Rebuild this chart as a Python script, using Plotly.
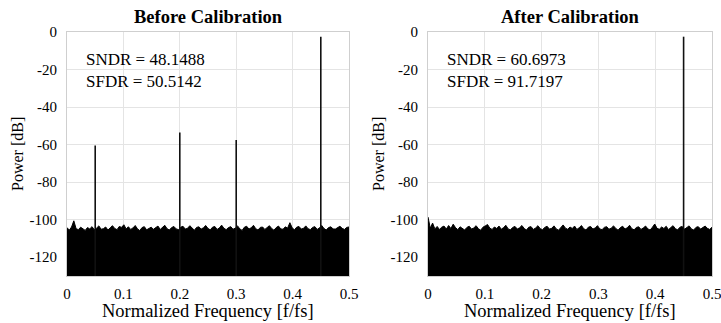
import numpy as np
import plotly.graph_objects as go

# ---------------- data ----------------
titles = ["Before Calibration", "After Calibration"]
sndr = [48.1488, 60.6973]
sfdr = [50.5142, 91.7197]

# tones: normalized frequency and peak power (dB)
before_tone_f = [0.05, 0.2, 0.3, 0.45]
before_tone_p = [-60.5, -53.5, -57.5, -2.5]
after_tone_f = [0.45]
after_tone_p = [-2.5]

# noise floor upper envelope (dB), read left to right across 0..0.5
before_floor = [
    -104.2, -105.6, -103.9, -100.6, -104.8, -105.3, -104.0, -104.9, -105.7, -104.2,
    -104.9, -103.7, -105.4, -104.5, -103.3, -105.1, -104.8, -103.9, -105.5, -104.3,
    -103.2, -104.7, -105.3, -103.6, -104.1, -102.7, -104.9, -103.8, -105.2, -104.4,
    -103.1, -104.9, -105.8, -104.2, -103.7, -105.4, -104.6, -104.0, -105.1, -104.3,
    -103.4, -105.2, -104.1, -103.0, -104.8, -105.5, -104.2, -103.6, -104.9, -105.3,
    -104.0, -103.5, -105.0, -104.6, -103.2, -104.4, -105.6, -104.1, -103.8, -105.0,
    -104.3, -103.1, -104.7, -105.4, -104.0, -103.6, -105.2, -104.4, -102.9, -104.6,
    -105.3, -104.2, -103.7, -105.1, -104.5, -103.3, -104.9, -105.7, -104.0, -103.5,
    -105.0, -104.3, -103.0, -104.8, -105.5, -104.1, -103.9, -105.2, -104.4, -103.2,
    -104.7, -105.6, -104.2, -103.4, -104.9, -105.1, -103.8, -104.5, -101.6, -104.3,
    -105.4, -104.0, -103.6, -105.0, -104.6, -103.3, -104.8, -105.3, -104.1, -103.7,
    -105.2, -104.4, -103.1, -104.7, -105.5, -104.2, -103.8, -104.9, -105.0, -104.3,
    -103.5, -104.6, -105.2, -104.1, -103.9,
]
after_floor = [
    -98.6, -104.5, -101.8, -104.9, -103.6, -105.2, -104.0, -103.4, -105.0, -103.1,
    -104.7, -102.4, -104.2, -105.3, -103.8, -104.6, -105.5, -104.1, -103.5, -105.0,
    -104.4, -103.2, -104.8, -105.6, -104.0, -103.3, -102.6, -104.5, -105.2, -103.9,
    -104.7, -103.4, -105.1, -104.2, -103.0, -104.9, -105.4, -104.1, -103.6, -105.0,
    -104.3, -103.1, -104.7, -105.5, -104.0, -103.7, -105.2, -104.4, -103.2, -104.8,
    -105.3, -104.1, -103.5, -105.0, -104.6, -103.3, -104.9, -105.6, -104.2, -102.8,
    -104.5, -105.1, -103.9, -104.7, -103.4, -105.2, -104.3, -103.1, -104.8, -105.5,
    -104.0, -103.6, -105.0, -104.4, -103.2, -104.9, -105.3, -104.1, -103.7, -105.1,
    -104.5, -103.3, -104.7, -105.6, -104.2, -103.5, -105.0, -104.3, -103.0, -104.8,
    -105.4, -104.1, -103.8, -105.2, -104.4, -103.4, -104.9, -105.5, -104.0, -102.3,
    -104.6, -105.1, -103.9, -104.7, -103.5, -105.3, -104.2, -103.2, -104.8, -105.4,
    -104.0, -103.6, -105.1, -104.4, -103.3, -104.9, -105.5, -104.1, -103.7, -105.0,
    -104.3, -103.4, -104.6, -105.2, -104.0,
]

x_ticks = [0, 0.1, 0.2, 0.3, 0.4, 0.5]
x_tick_text = ["0", "0.1", "0.2", "0.3", "0.4", "0.5"]
y_ticks = [0, -20, -40, -60, -80, -100, -120]
y_tick_text = ["0", "-20", "-40", "-60", "-80", "-100", "-120"]
y_min, y_max = -130, 0

# ---------------- figure ----------------
W, H = 721, 323
FONT = "Liberation Serif"
fig = go.Figure()

panels = [
    dict(floor=before_floor, tf=before_tone_f, tp=before_tone_p, xa="x", ya="y",
         dom=[67 / W, 349 / W]),
    dict(floor=after_floor, tf=after_tone_f, tp=after_tone_p, xa="x2", ya="y2",
         dom=[428 / W, 712 / W]),
]
ydom = [(H - 276) / H, (H - 32) / H]

for i, p in enumerate(panels):
    fx = np.linspace(0, 0.5, len(p["floor"]))
    # baseline for the fill
    fig.add_trace(go.Scatter(x=fx, y=[y_min] * len(fx), mode="lines",
                             line=dict(width=0, color="black"),
                             xaxis=p["xa"], yaxis=p["ya"], showlegend=False,
                             hoverinfo="skip"))
    fig.add_trace(go.Scatter(x=fx, y=p["floor"], mode="lines", fill="tonexty",
                             fillcolor="black", line=dict(width=1, color="black"),
                             xaxis=p["xa"], yaxis=p["ya"], showlegend=False))
    # tone spikes
    sx, sy = [], []
    for f, pk in zip(p["tf"], p["tp"]):
        sx += [f, f, None]
        sy += [y_min, pk, None]
    fig.add_trace(go.Scatter(x=sx, y=sy, mode="lines",
                             line=dict(width=1.6, color="#111111"),
                             xaxis=p["xa"], yaxis=p["ya"], showlegend=False))

    axis_common = dict(showgrid=True, gridcolor="#e4e4e4", gridwidth=1,
                       showline=True, linecolor="#cfcfcf", linewidth=1, mirror=True,
                       zeroline=False, ticks="", automargin=False,
                       ticklabeloverflow="allow",
                       tickfont=dict(family=FONT, size=15, color="black"))
    xkey = "xaxis" if i == 0 else "xaxis2"
    ykey = "yaxis" if i == 0 else "yaxis2"
    fig.update_layout(**{
        xkey: dict(domain=p["dom"], range=[0, 0.5], tickvals=x_ticks,
                   ticktext=x_tick_text, anchor=p["ya"], ticklabelstandoff=4,
                   **axis_common),
        ykey: dict(domain=ydom, range=[y_min, y_max], tickvals=y_ticks,
                   ticktext=y_tick_text, anchor=p["xa"], ticklabelstandoff=6,
                   **axis_common),
    })

    cx = (p["dom"][0] + p["dom"][1]) / 2
    # panel title
    fig.add_annotation(text="<b>" + titles[i] + "</b>", xref="paper", yref="paper",
                       x=cx, y=(H - 17) / H, xanchor="center", yanchor="middle",
                       showarrow=False,
                       font=dict(family=FONT, size=18.5, color="black"))
    # x title
    fig.add_annotation(text="Normalized Frequency [f/fs]", xref="paper", yref="paper",
                       x=cx, y=(H - 311) / H, xanchor="center", yanchor="middle",
                       showarrow=False,
                       font=dict(family=FONT, size=18.5, color="black"))
    # y title
    fig.add_annotation(text="Power [dB]", xref="paper", yref="paper",
                       x=(p["dom"][0] * W - 49) / W, y=(H - 154) / H, textangle=-90,
                       xanchor="center", yanchor="middle",
                       showarrow=False, font=dict(family=FONT, size=16, color="black"))
    # SNDR / SFDR text
    fig.add_annotation(text=f"SNDR = {sndr[i]:.4f}<br>SFDR = {sfdr[i]:.4f}",
                       xref="paper", yref="paper", align="left",
                       x=(p["dom"][0] * W + 17) / W, y=(H - 48) / H,
                       xanchor="left", yanchor="top", showarrow=False,
                       font=dict(family=FONT, size=17, color="black"))

fig.update_layout(width=W, height=H, margin=dict(l=0, r=0, t=0, b=0),
                  paper_bgcolor="white", plot_bgcolor="white", showlegend=False)

fig.write_html("out.html", config={"displayModeBar": False},
               post_script="document.body.style.margin='0';document.body.style.overflow='hidden';")
